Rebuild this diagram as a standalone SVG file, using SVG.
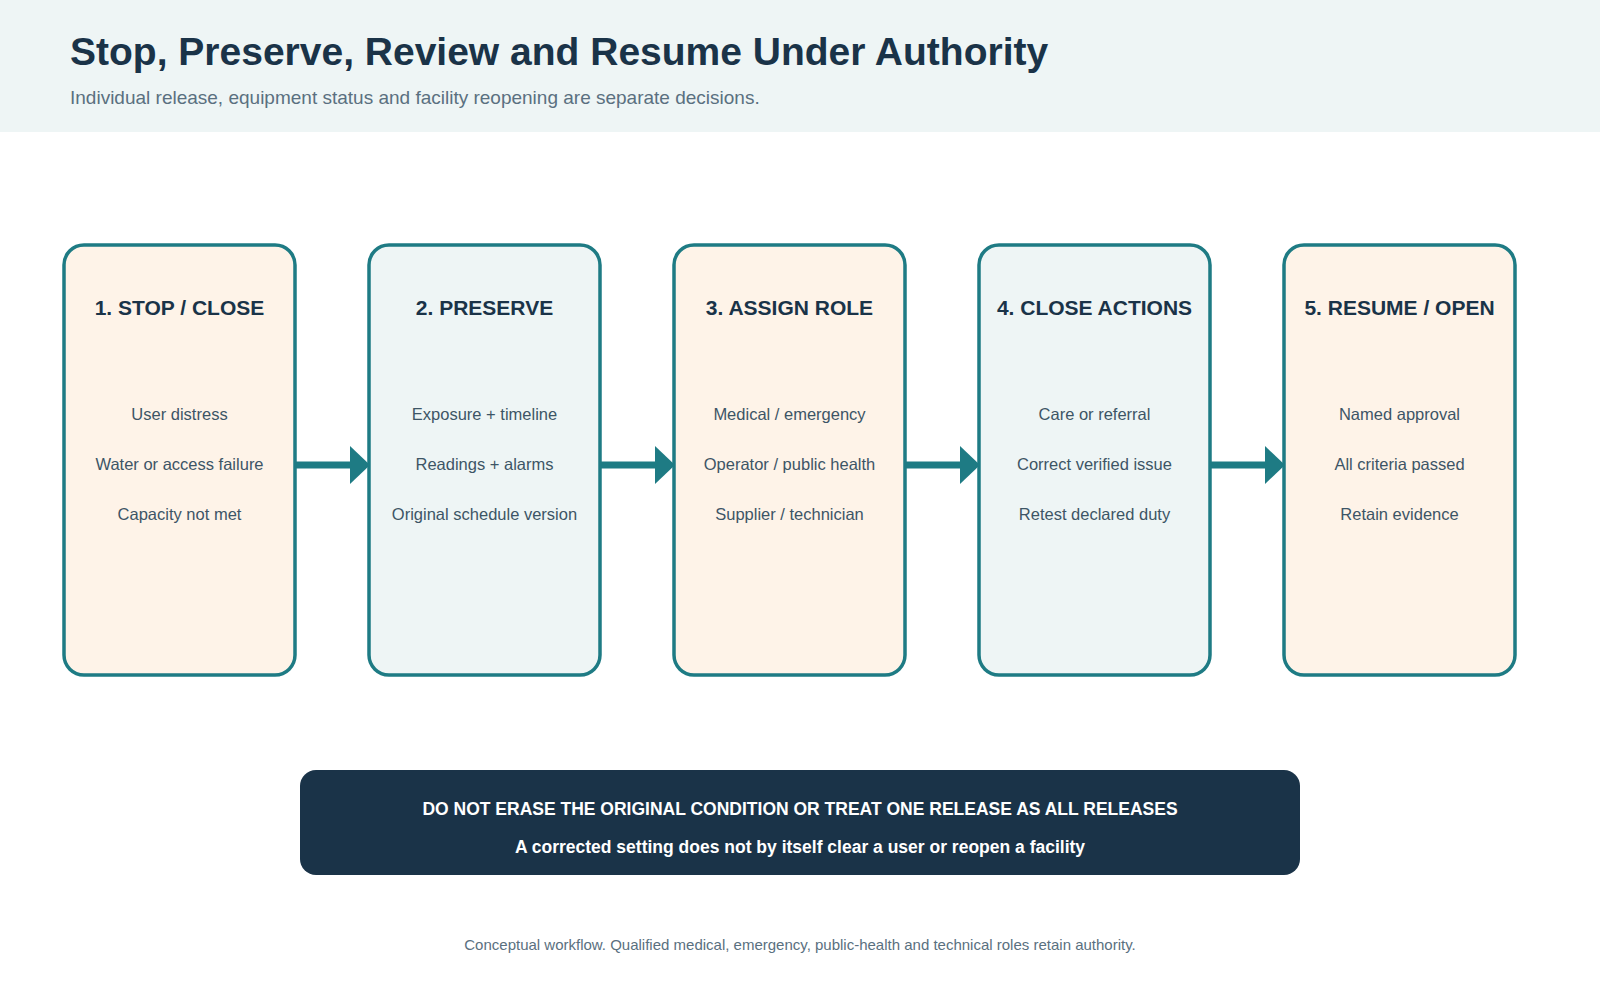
<svg xmlns="http://www.w3.org/2000/svg" width="1600" height="1000" viewBox="0 0 1600 1000">
<style>
text{font-family:"Liberation Sans",Arial,sans-serif}
.b{stroke:#1e7b84;stroke-width:3.5}
.o{fill:#fef3e8}.g{fill:#eef5f5}
.t{font-size:21px;font-weight:bold;fill:#1a3348;text-anchor:middle}
.i{font-size:16.5px;fill:#3d5566;text-anchor:middle}
</style>
<defs><marker id="ah" markerWidth="20" markerHeight="38" refX="0" refY="19" orient="auto" markerUnits="userSpaceOnUse"><path d="M0,0 L20,19 L0,38 Z" fill="#1e7b84"/></marker></defs>
<rect width="1600" height="132" fill="#eef5f5"/>
<text x="70" y="65" font-size="39" font-weight="bold" fill="#1a3348">Stop, Preserve, Review and Resume Under Authority</text>
<text x="70" y="104" font-size="19" fill="#5a7080">Individual release, equipment status and facility reopening are separate decisions.</text>
<g id="connectors" stroke="#1e7b84" stroke-width="7" marker-end="url(#ah)">
<line x1="296" y1="465" x2="350" y2="465"/><line x1="601" y1="465" x2="655" y2="465"/><line x1="906" y1="465" x2="960" y2="465"/><line x1="1211" y1="465" x2="1265" y2="465"/>
</g>
<g id="n1"><rect class="b o" x="64" y="245" width="231" height="430" rx="20"/><text class="t" x="179.5" y="315">1. STOP / CLOSE</text><text class="i" x="179.5" y="420">User distress</text><text class="i" x="179.5" y="470">Water or access failure</text><text class="i" x="179.5" y="520">Capacity not met</text></g>
<g id="n2"><rect class="b g" x="369" y="245" width="231" height="430" rx="20"/><text class="t" x="484.5" y="315">2. PRESERVE</text><text class="i" x="484.5" y="420">Exposure + timeline</text><text class="i" x="484.5" y="470">Readings + alarms</text><text class="i" x="484.5" y="520">Original schedule version</text></g>
<g id="n3"><rect class="b o" x="674" y="245" width="231" height="430" rx="20"/><text class="t" x="789.5" y="315">3. ASSIGN ROLE</text><text class="i" x="789.5" y="420">Medical / emergency</text><text class="i" x="789.5" y="470">Operator / public health</text><text class="i" x="789.5" y="520">Supplier / technician</text></g>
<g id="n4"><rect class="b g" x="979" y="245" width="231" height="430" rx="20"/><text class="t" x="1094.5" y="315">4. CLOSE ACTIONS</text><text class="i" x="1094.5" y="420">Care or referral</text><text class="i" x="1094.5" y="470">Correct verified issue</text><text class="i" x="1094.5" y="520">Retest declared duty</text></g>
<g id="n5"><rect class="b o" x="1284" y="245" width="231" height="430" rx="20"/><text class="t" x="1399.5" y="315">5. RESUME / OPEN</text><text class="i" x="1399.5" y="420">Named approval</text><text class="i" x="1399.5" y="470">All criteria passed</text><text class="i" x="1399.5" y="520">Retain evidence</text></g>
<g id="warning"><rect x="300" y="770" width="1000" height="105" rx="16" fill="#1a3348"/>
<text x="800" y="815" font-size="17.5" font-weight="bold" fill="#fff" text-anchor="middle">DO NOT ERASE THE ORIGINAL CONDITION OR TREAT ONE RELEASE AS ALL RELEASES</text>
<text x="800" y="853" font-size="17.5" font-weight="bold" fill="#fff" text-anchor="middle">A corrected setting does not by itself clear a user or reopen a facility</text></g>
<text x="800" y="950" font-size="15" fill="#5a7080" text-anchor="middle">Conceptual workflow. Qualified medical, emergency, public-health and technical roles retain authority.</text>
</svg>
